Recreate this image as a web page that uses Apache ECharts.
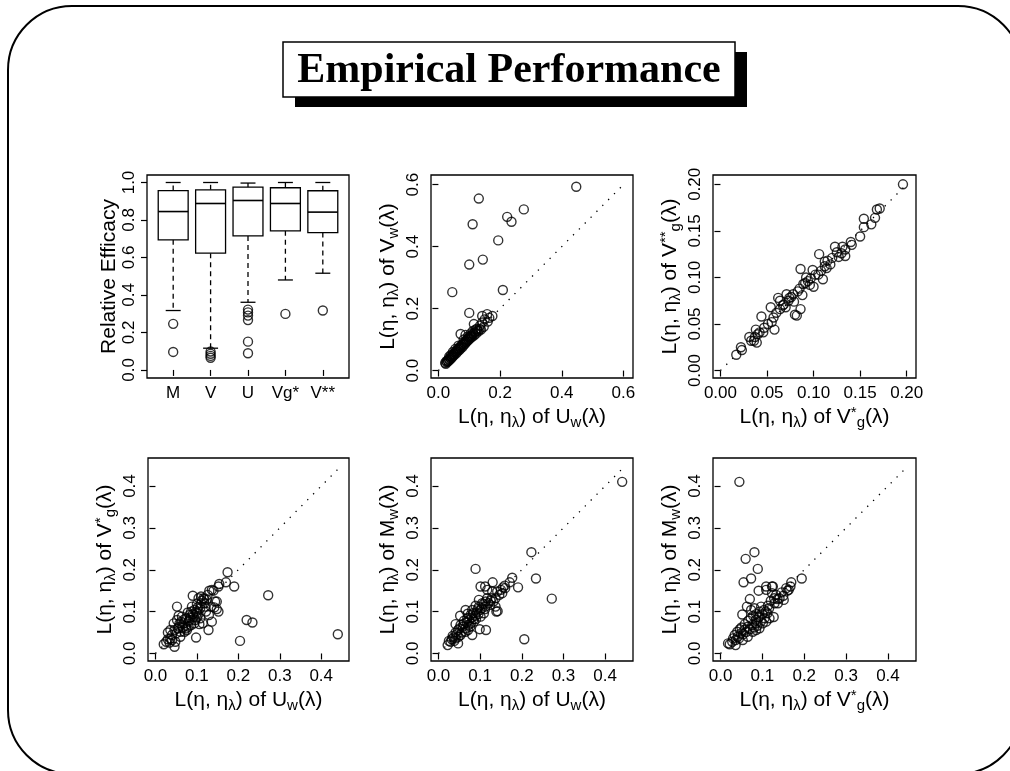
<!DOCTYPE html>
<html><head><meta charset="utf-8">
<script src="https://cdn.jsdelivr.net/npm/echarts@6/dist/echarts.min.js"></script>
<style>html,body{margin:0;padding:0;background:#fff}#c{width:1010px;height:771px}</style>
</head><body><div id="c"></div>
<script>
// ---------- data ----------
const boxCats = ['M', 'V', 'U', 'Vg*', 'V**'];
// [lower whisker, Q1, median, Q3, upper whisker]
const boxStats = [
  [0.317, 0.694, 0.845, 0.957, 1.000],
  [0.116, 0.623, 0.888, 0.961, 1.000],
  [0.361, 0.715, 0.904, 0.975, 0.997],
  [0.480, 0.742, 0.888, 0.972, 1.000],
  [0.516, 0.733, 0.842, 0.956, 1.000]
];
const boxOutliers = [
  [0.246, 0.096],
  [0.098, 0.086, 0.075, 0.065],
  [0.322, 0.307, 0.290, 0.266, 0.151, 0.089],
  [0.299],
  [0.317]
];
const tickBox = [0, 0.2, 0.4, 0.6, 0.8, 1.0];
const ticks06 = [0, 0.2, 0.4, 0.6];
const ticks02 = [0, 0.05, 0.10, 0.15, 0.20];
const ticks04 = [0, 0.1, 0.2, 0.3, 0.4];
const diagEnds = [0.6, 0.2, 0.443, 0.443, 0.443];

const uwVw = [
[0.447,0.593],[0.131,0.555],[0.111,0.472],[0.277,0.520],[0.223,0.496],[0.237,0.480],[0.194,0.420],[0.144,0.358],[0.100,0.342],[0.045,0.253],[0.209,0.260],[0.100,0.186],
[0.142,0.176],[0.158,0.182],[0.175,0.176],[0.115,0.150],[0.142,0.155],[0.147,0.141],[0.160,0.158],[0.150,0.165],[0.072,0.118],[0.088,0.115],[0.125,0.135],[0.135,0.145],[0.165,0.170],
[0.022,0.025],[0.024,0.022],[0.026,0.030],[0.028,0.027],[0.030,0.033],[0.032,0.030],[0.034,0.037],[0.036,0.034],[0.038,0.041],[0.040,0.038],[0.042,0.046],[0.044,0.042],[0.046,0.050],[0.048,0.047],[0.050,0.054],[0.052,0.051],[0.054,0.058],[0.056,0.062],[0.058,0.056],[0.060,0.066],[0.062,0.061],[0.064,0.069],[0.066,0.072],[0.068,0.066],[0.070,0.076],[0.072,0.071],[0.074,0.079],[0.076,0.083],[0.078,0.076],[0.080,0.087],[0.082,0.082],[0.084,0.090],[0.086,0.086],[0.088,0.094],[0.090,0.091],[0.092,0.099],[0.094,0.095],[0.096,0.103],[0.098,0.099],[0.100,0.107],[0.102,0.103],[0.104,0.111],[0.106,0.107],[0.108,0.115],[0.110,0.110],[0.113,0.119],[0.116,0.114],[0.119,0.124],[0.122,0.119],[0.126,0.129],[0.130,0.127],[0.134,0.134],[0.138,0.132],[0.055,0.070],[0.047,0.060],[0.065,0.080],[0.082,0.100],[0.095,0.110],[0.105,0.120],[0.112,0.128],[0.120,0.132],[0.035,0.045],[0.040,0.050]
];
const vgVgg = [
[0.196,0.200],[0.168,0.173],[0.171,0.174],[0.166,0.164],[0.162,0.157],[0.154,0.163],[0.154,0.154],[0.150,0.144],[0.140,0.138],[0.141,0.135],[0.131,0.133],[0.134,0.130],[0.123,0.133],[0.134,0.123],[0.125,0.127],[0.115,0.118],[0.112,0.117],[0.106,0.125],[0.114,0.110],[0.118,0.114],[0.108,0.107],[0.110,0.098],[0.102,0.103],[0.099,0.108],[0.100,0.090],[0.092,0.100],[0.094,0.096],[0.089,0.093],[0.086,0.109],[0.083,0.085],[0.088,0.081],[0.086,0.066],[0.080,0.060],[0.082,0.059],[0.078,0.082],[0.074,0.078],[0.071,0.082],[0.073,0.075],[0.068,0.071],[0.064,0.075],[0.062,0.078],[0.064,0.066],[0.060,0.062],[0.054,0.068],[0.057,0.057],[0.055,0.052],[0.058,0.044],[0.051,0.050],[0.047,0.046],[0.044,0.058],[0.042,0.041],[0.038,0.044],[0.040,0.039],[0.037,0.036],[0.033,0.032],[0.031,0.036],[0.039,0.030],[0.022,0.025],[0.023,0.022],[0.017,0.017],[0.046,0.041],[0.067,0.070],[0.076,0.079],[0.085,0.088],[0.091,0.094],[0.097,0.099],[0.105,0.103],[0.120,0.121],[0.127,0.122],[0.096,0.092],[0.079,0.074],[0.070,0.068],[0.112,0.112],[0.130,0.126],[0.036,0.032]
];
const uwVg = [
[0.440,0.046],[0.272,0.139],[0.220,0.080],[0.234,0.074],[0.204,0.030],[0.190,0.160],[0.174,0.194],[0.170,0.170],[0.154,0.166],[0.152,0.160],[0.098,0.038],[0.128,0.056],[0.136,0.076],[0.152,0.100],[0.148,0.124],[0.052,0.112],[0.046,0.016],[0.106,0.070],
[0.020,0.022],[0.026,0.028],[0.030,0.050],[0.036,0.036],[0.040,0.044],[0.046,0.056],[0.044,0.072],[0.052,0.080],[0.057,0.064],[0.060,0.052],[0.068,0.072],[0.064,0.088],[0.074,0.084],[0.078,0.098],[0.082,0.092],[0.088,0.112],[0.090,0.138],[0.094,0.104],[0.100,0.118],[0.104,0.132],[0.110,0.136],[0.116,0.132],[0.118,0.120],[0.124,0.128],[0.130,0.150],[0.136,0.152],[0.134,0.112],[0.129,0.092],[0.114,0.072],[0.108,0.084],[0.096,0.080],[0.086,0.068],[0.076,0.056],[0.060,0.040],[0.048,0.028],[0.070,0.052],[0.080,0.076],[0.092,0.088],[0.100,0.096],[0.108,0.108],[0.120,0.112],[0.122,0.100],[0.144,0.124],[0.148,0.106],[0.036,0.056],[0.056,0.090],[0.062,0.076],[0.066,0.062],[0.070,0.082],[0.072,0.066],[0.084,0.086],[0.086,0.100],[0.090,0.094],[0.098,0.100],[0.102,0.110],[0.110,0.120],[0.112,0.126],[0.118,0.130],[0.126,0.140],[0.030,0.034],[0.034,0.026],[0.040,0.032],[0.050,0.048],[0.054,0.060],[0.058,0.072],[0.074,0.060],[0.080,0.064],[0.082,0.080],[0.094,0.072],[0.100,0.086],[0.104,0.094],[0.140,0.150],[0.142,0.110]
];
const uwMw = [
[0.441,0.410],[0.223,0.242],[0.234,0.179],[0.272,0.131],[0.206,0.034],[0.191,0.158],[0.177,0.181],[0.089,0.202],[0.099,0.058],[0.114,0.056],[0.081,0.044],[0.047,0.024],[0.139,0.100],[0.142,0.101],[0.130,0.170],[0.101,0.160],[0.112,0.160],[0.041,0.070],
[0.117,0.152],[0.129,0.148],[0.141,0.148],[0.153,0.144],[0.155,0.158],[0.159,0.162],[0.171,0.170],[0.137,0.132],[0.125,0.126],[0.113,0.124],[0.097,0.128],[0.089,0.114],[0.137,0.112],
[0.022,0.020],[0.029,0.028],[0.036,0.038],[0.041,0.050],[0.047,0.056],[0.053,0.068],[0.052,0.090],[0.065,0.104],[0.061,0.078],[0.069,0.084],[0.077,0.092],[0.081,0.104],[0.092,0.098],[0.085,0.076],[0.076,0.064],[0.065,0.052],[0.053,0.044],[0.041,0.036],[0.071,0.056],[0.097,0.112],[0.105,0.120],[0.113,0.112],[0.117,0.132],[0.109,0.096],[0.101,0.088],
[0.025,0.030],[0.032,0.034],[0.034,0.042],[0.038,0.030],[0.044,0.046],[0.048,0.040],[0.050,0.060],[0.056,0.050],[0.058,0.064],[0.060,0.070],[0.064,0.060],[0.068,0.074],[0.072,0.068],[0.074,0.080],[0.078,0.072],[0.080,0.086],[0.084,0.082],[0.088,0.090],[0.090,0.082],[0.094,0.106],[0.096,0.094],[0.100,0.104],[0.104,0.108],[0.108,0.118],[0.112,0.106],[0.120,0.120],[0.124,0.116],[0.128,0.132],[0.132,0.124],[0.146,0.140],[0.150,0.152],[0.160,0.156],[0.070,0.095],[0.083,0.096]
];
const vgMw = [
[0.045,0.410],[0.081,0.242],[0.060,0.226],[0.089,0.202],[0.073,0.179],[0.055,0.170],[0.194,0.179],[0.070,0.130],[0.091,0.150],[0.052,0.093],[0.109,0.160],[0.123,0.160],[0.127,0.087],
[0.125,0.160],[0.109,0.152],[0.123,0.144],[0.133,0.140],[0.151,0.128],[0.163,0.152],[0.167,0.160],[0.169,0.170],[0.157,0.156],[0.141,0.132],[0.137,0.120],[0.129,0.120],[0.113,0.114],[0.108,0.100],[0.097,0.112],[0.093,0.100],[0.081,0.108],[0.073,0.104],[0.063,0.112],[0.085,0.094],[0.093,0.088],[0.105,0.084],[0.117,0.084],[0.085,0.072],[0.076,0.068],[0.065,0.064],[0.057,0.056],[0.049,0.048],[0.041,0.040],[0.036,0.032],[0.028,0.028],[0.018,0.024],[0.022,0.022],[0.036,0.020],[0.053,0.032],[0.065,0.040],[0.077,0.052],[0.085,0.056],[0.093,0.060],[0.101,0.072],[0.109,0.076],
[0.030,0.036],[0.034,0.044],[0.040,0.052],[0.044,0.036],[0.046,0.058],[0.050,0.062],[0.054,0.046],[0.058,0.070],[0.062,0.052],[0.066,0.078],[0.070,0.058],[0.072,0.084],[0.078,0.090],[0.080,0.062],[0.084,0.080],[0.088,0.066],[0.090,0.086],[0.096,0.076],[0.100,0.094],[0.104,0.104],[0.112,0.096],[0.116,0.108],[0.120,0.126],[0.128,0.132],[0.136,0.130],[0.146,0.146],[0.150,0.138],[0.160,0.150]
];

// ---------- styling ----------
const FONT = '"Liberation Sans", Arial, sans-serif';
const rich = {
  n: {fontSize: 21, lineHeight: 25, fontFamily: FONT, color: '#000', verticalAlign: 'middle'},
  s: {fontSize: 15, lineHeight: 15, padding: [12, 0, 0, 0], verticalAlign: 'bottom', fontFamily: FONT, color: '#000'},
  p: {fontSize: 15, lineHeight: 15, verticalAlign: 'top', fontFamily: FONT, color: '#000'}
};
const nameUw = '{n|L(η, η}{s|λ}{n|) of U}{s|w}{n|(λ)}';
const nameVw = '{n|L(η, η}{s|λ}{n|) of V}{s|w}{n|(λ)}';
const nameVg = '{n|L(η, η}{s|λ}{n|) of V}{p|*}{s|g}{n|(λ)}';
const nameVgg = '{n|L(η, η}{s|λ}{n|) of V}{p|**}{s|g}{n|(λ)}';
const nameMw = '{n|L(η, η}{s|λ}{n|) of M}{s|w}{n|(λ)}';

const grids = [
  {left: 147, top: 175, width: 202, height: 203},
  {left: 431, top: 175, width: 202, height: 203},
  {left: 713, top: 175, width: 203, height: 203},
  {left: 148, top: 458, width: 201, height: 203},
  {left: 431, top: 458, width: 202, height: 203},
  {left: 713, top: 458, width: 203, height: 203}
].map(g => Object.assign(g, {show: true, borderColor: '#000', borderWidth: 1.3, backgroundColor: 'transparent'}));

function valAxis(gi, min, max, ticks, fmt, name, isY) {
  return {
    type: 'value', gridIndex: gi, min: min, max: max,
    axisLine: {show: false},
    splitLine: {show: false},
    axisTick: {show: true, inside: false, length: 6, customValues: ticks, lineStyle: {color: '#000', width: 1.2}},
    axisLabel: {customValues: ticks, formatter: fmt, fontSize: 17, fontFamily: FONT, color: '#000',
                margin: isY ? 9 : 7, rotate: isY ? 90 : 0},
    name: name, nameLocation: 'middle', nameGap: isY ? 30 : 26, nameRotate: isY ? 90 : 0,
    nameTextStyle: {fontSize: 21, fontFamily: FONT, color: '#000', rich: rich}
  };
}
const f1 = v => Number(v).toFixed(1);
const f2 = v => Number(v).toFixed(2);

const ext06 = [-0.024, 0.631];
const ext02 = [-0.008, 0.210];
const ext04 = [-0.018, 0.467];

const xAxes = [
  valAxis(0, 0.3, 5.7, [1, 2, 3, 4, 5], v => boxCats[Math.round(v) - 1], '', false),
  valAxis(1, ext06[0], ext06[1], ticks06, f1, nameUw, false),
  valAxis(2, ext02[0], ext02[1], ticks02, f2, nameVg, false),
  valAxis(3, ext04[0], ext04[1], ticks04, f1, nameUw, false),
  valAxis(4, ext04[0], ext04[1], ticks04, f1, nameUw, false),
  valAxis(5, ext04[0], ext04[1], ticks04, f1, nameVg, false)
];
const yAxes = [
  valAxis(0, -0.043, 1.04, tickBox, f1, '{n|Relative Efficacy}', true),
  valAxis(1, ext06[0], ext06[1], ticks06, f1, nameVw, true),
  valAxis(2, ext02[0], ext02[1], ticks02, f2, nameVgg, true),
  valAxis(3, ext04[0], ext04[1], ticks04, f1, nameVg, true),
  valAxis(4, ext04[0], ext04[1], ticks04, f1, nameMw, true),
  valAxis(5, ext04[0], ext04[1], ticks04, f1, nameMw, true)
];
yAxes[0].nameGap = 25;

const circleStyle = {color: 'rgba(0,0,0,0)', borderColor: '#000', borderWidth: 1.4};
const series = [];

// boxplot drawn through the axes' coordinate system
series.push({
  type: 'custom', xAxisIndex: 0, yAxisIndex: 0, silent: true,
  data: boxStats.map((s, i) => [i + 1].concat(s)),
  renderItem: function (params, api) {
    const x = api.value(0);
    const lo = api.value(1), q1 = api.value(2), med = api.value(3), q3 = api.value(4), hi = api.value(5);
    const tl = api.coord([x - 0.4, q3]);
    const br = api.coord([x + 0.4, q1]);
    const xc = api.coord([x, med])[0];
    const ym = api.coord([x, med])[1];
    const yl = api.coord([x, lo])[1];
    const yh = api.coord([x, hi])[1];
    const cl = api.coord([x - 0.2, lo])[0];
    const cr = api.coord([x + 0.2, lo])[0];
    const st = {stroke: '#000', lineWidth: 1.3, fill: 'none'};
    const dash = {stroke: '#000', lineWidth: 1.3, lineDash: [5, 4]};
    return {type: 'group', children: [
      {type: 'line', shape: {x1: xc, y1: tl[1], x2: xc, y2: yh}, style: dash},
      {type: 'line', shape: {x1: xc, y1: br[1], x2: xc, y2: yl}, style: dash},
      {type: 'line', shape: {x1: cl, y1: yh, x2: cr, y2: yh}, style: st},
      {type: 'line', shape: {x1: cl, y1: yl, x2: cr, y2: yl}, style: st},
      {type: 'rect', shape: {x: tl[0], y: tl[1], width: br[0] - tl[0], height: br[1] - tl[1]}, style: {stroke: '#000', lineWidth: 1.3, fill: '#fff'}},
      {type: 'line', shape: {x1: tl[0], y1: ym, x2: br[0], y2: ym}, style: {stroke: '#000', lineWidth: 1.6}}
    ]};
  }
});
const outPts = [];
boxOutliers.forEach((arr, i) => arr.forEach(v => outPts.push([i + 1, v])));
series.push({type: 'scatter', xAxisIndex: 0, yAxisIndex: 0, data: outPts, symbol: 'circle', symbolSize: 9, itemStyle: circleStyle, silent: true});

const panels = [uwVw, vgVgg, uwVg, uwMw, vgMw];
panels.forEach((pts, k) => {
  const gi = k + 1;
  series.push({
    type: 'line', xAxisIndex: gi, yAxisIndex: gi, silent: true, symbol: 'none',
    data: [[0, 0], [diagEnds[k], diagEnds[k]]],
    lineStyle: {color: '#000', width: 1.3, type: [1.3, 7]}
  });
  series.push({
    type: 'scatter', xAxisIndex: gi, yAxisIndex: gi, silent: true,
    data: pts, symbol: 'circle', symbolSize: 9, itemStyle: circleStyle
  });
});

const chart = echarts.init(document.getElementById('c'), null, {renderer: 'canvas'});
chart.setOption({
  animation: false,
  backgroundColor: '#fff',
  grid: grids,
  xAxis: xAxes,
  yAxis: yAxes,
  series: series,
  graphic: [
    {type: 'rect', shape: {x: 8, y: 6, width: 1014, height: 768, r: 64}, style: {fill: 'none', stroke: '#000', lineWidth: 2}},
    {type: 'rect', shape: {x: 295, y: 52, width: 452, height: 55}, style: {fill: '#000'}},
    {type: 'rect', shape: {x: 283, y: 42, width: 452, height: 55}, style: {fill: '#fff', stroke: '#000', lineWidth: 1.5}},
    {type: 'text', x: 509, y: 71, style: {text: 'Empirical Performance', fontSize: 42, fontWeight: 'bold',
      fontFamily: '"Liberation Serif", "DejaVu Serif", serif', fill: '#000', align: 'center', verticalAlign: 'middle'}}
  ]
});
</script></body></html>
